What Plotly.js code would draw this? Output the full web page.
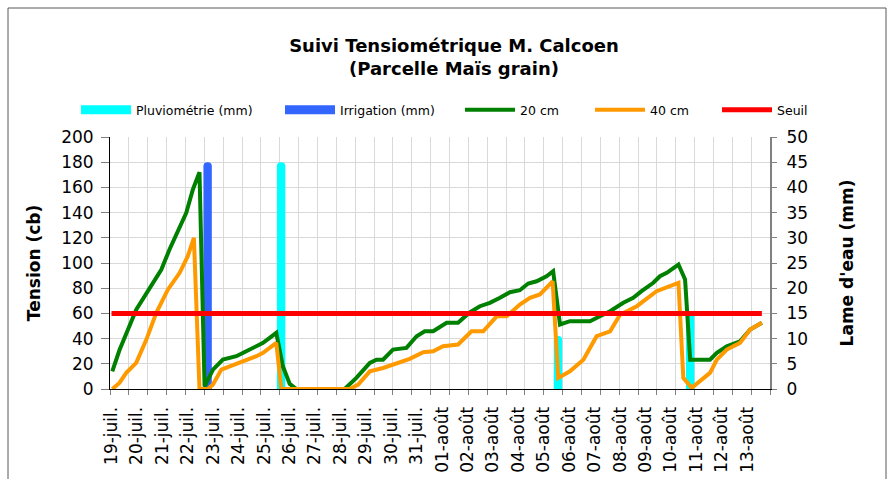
<!DOCTYPE html>
<html>
<head>
<meta charset="utf-8">
<script src="https://cdn.plot.ly/plotly-3.0.1.min.js"></script>
<style>html,body{margin:0;padding:0;background:#fff}#chart{width:894px;height:479px}</style>
</head>
<body>
<div id="chart"></div>
<script>
// Date labels (one per day)
const dates = ['19-juil.','20-juil.','21-juil.','22-juil.','23-juil.','24-juil.','25-juil.','26-juil.','27-juil.','28-juil.','29-juil.','30-juil.','31-juil.','01-août','02-août','03-août','04-août','05-août','06-août','07-août','08-août','09-août','10-août','11-août','12-août','13-août'];

// Tension 20 cm (x in days from 19-juil.)
const t20X = [0.03,0.31,0.97,1.96,2.28,2.94,3.20,3.46,3.66,3.99,4.38,4.91,5.30,5.96,6.22,6.48,6.74,7.01,7.27,9.17,9.63,10.16,10.42,10.68,11.07,11.60,12.00,12.32,12.65,13.18,13.63,14.06,14.49,14.88,15.28,15.67,16.06,16.39,16.72,17.11,17.37,17.64,18.03,18.82,19.21,19.61,20.13,20.52,20.85,21.31,21.57,21.84,22.30,22.56,22.76,23.54,23.81,24.20,24.72,25.12,25.58];
const t20Y = [14,30.7,63,94.8,110.7,139.9,158.4,172,2,15.4,23.3,26,30,36.6,40.6,44.6,18,4,0,0,8.8,20.7,23.3,23.3,31.3,32.6,41.9,45.8,45.8,52.5,52.5,60.4,65.7,68.4,72.4,76.8,78.4,83.7,85.5,89.5,93.5,51.2,53.8,53.8,57.7,61.7,68.4,72.4,77.6,84.3,89.5,92.2,98.8,86.9,23.3,23.3,28.7,33.9,37.9,47.2,52.5];

// Tension 40 cm
const t40X = [0.03,0.31,0.58,0.97,1.37,1.76,2.22,2.68,3.00,3.24,3.46,3.79,3.99,4.32,4.65,4.91,5.30,5.70,5.96,6.22,6.48,6.68,9.37,9.70,10.16,10.68,11.21,11.73,12.26,12.65,13.04,13.63,14.16,14.62,15.15,15.54,16.06,16.46,16.85,17.35,17.57,18.03,18.56,19.08,19.61,20.00,20.66,21.18,21.44,22.30,22.49,22.82,23.15,23.54,23.81,24.20,24.72,25.12,25.58];
const t40Y = [0,4.8,12.8,20.7,39.2,60.4,79,92.2,105.4,120,0,0,3.5,15.4,18,19.8,23.3,26,28.7,32.6,36.6,0,0,3.5,14,16.7,20.7,23.9,29.2,30,33.9,35.3,45.8,45.8,57.7,57.7,67,72.4,75,85.5,8.8,14,23.3,41.9,45.8,59,65.7,73.6,77.6,84.3,8.8,0.9,6.1,12.8,23.3,31.3,36.6,47.2,52.5];

// Threshold
const seuilX = [0, 25.58];
const seuilY = [60, 60];

// Rain and irrigation (mm)
const pluvioX = [6.67, 17.56, 22.76];
const pluvioY = [45, 10.5, 15.5];
const irrigX = [3.78];
const irrigY = [45];

const FONT = 'DejaVu Sans';
const LEGY = 1 - 110/479;

const traces = [
  {type:'bar', x:pluvioX, y:pluvioY, xaxis:'x', yaxis:'y', width:0.33, marker:{color:'#00FFFF', cornerradius:5, line:{width:0}}, name:'Pluviométrie (mm)', showlegend:false, legendgroup:'p'},
  {type:'bar', x:irrigX, y:irrigY, xaxis:'x', yaxis:'y', width:0.33, marker:{color:'#3366FF', cornerradius:5, line:{width:0}}, name:'Irrigation (mm)', showlegend:false, legendgroup:'i'},
  {type:'scatter', mode:'lines', x:t20X, y:t20Y, xaxis:'x', yaxis:'y2', line:{color:'#008000', width:4}, name:'20 cm', legend:'legend3'},
  {type:'scatter', mode:'lines', x:t40X, y:t40Y, xaxis:'x', yaxis:'y2', line:{color:'#FF9900', width:4}, name:'40 cm', legend:'legend4'},
  {type:'scatter', mode:'lines', x:seuilX, y:seuilY, xaxis:'x', yaxis:'y2', line:{color:'#FF0000', width:5}, name:'Seuil', legend:'legend5'},
  // legend proxies for the bar series
  {type:'scatter', mode:'lines', x:[null], y:[null], xaxis:'x', yaxis:'y', line:{color:'#00FFFF', width:9}, name:'Pluviométrie (mm)', legend:'legend', legendgroup:'p', hoverinfo:'skip'},
  {type:'scatter', mode:'lines', x:[null], y:[null], xaxis:'x', yaxis:'y', line:{color:'#3366FF', width:9}, name:'Irrigation (mm)', legend:'legend2', legendgroup:'i', hoverinfo:'skip'},
  // carrier for the gridline axis
  {type:'scatter', mode:'lines', x:[null], y:[null], xaxis:'x2', yaxis:'y', showlegend:false, hoverinfo:'skip'}
];

function leg(px){
  return {xref:'container', yref:'container', x:px/894, y:LEGY, xanchor:'left', yanchor:'middle', orientation:'h',
          bgcolor:'rgba(0,0,0,0)', borderwidth:0, itemwidth:50, font:{family:FONT, size:12.5, color:'#000'}};
}

const layout = {
  width:894, height:479,
  margin:{l:110, r:124, t:137, b:90},
  paper_bgcolor:'#fff', plot_bgcolor:'#fff',
  font:{family:FONT, color:'#000'},
  barmode:'overlay',
  title:{text:'<b>Suivi Tensiométrique M. Calcoen<br>(Parcelle Maïs grain)</b>', font:{family:FONT, size:18, color:'#000'},
         xref:'container', yref:'container', x:454/894, xanchor:'center', y:1-52/479, yanchor:'top'},
  xaxis:{range:[-0.06, 25.9], tickmode:'array', tickvals:dates.map((d,i)=>i), ticktext:dates, tickangle:-90,
         showgrid:false, zeroline:false, showline:true, linecolor:'#000', linewidth:1, ticks:'',
         tickfont:{family:FONT, size:17, color:'#000'}, ticklabelstandoff:10, anchor:'y'},
  xaxis2:{overlaying:'x', anchor:'y', side:'bottom', range:[0,35], tickmode:'linear', tick0:0, dtick:1,
          showgrid:true, gridcolor:'#d9d9d9', gridwidth:1, ticks:'outside', ticklen:5, tickcolor:'#808080',
          showticklabels:false, zeroline:false, showline:false},
  yaxis:{side:'right', range:[0,50], tickmode:'linear', tick0:0, dtick:5, showgrid:true, gridcolor:'#d9d9d9', gridwidth:1,
         zeroline:false, showline:true, linecolor:'#808080', linewidth:2, ticks:'outside', ticklen:5, tickcolor:'#808080',
         tickfont:{family:FONT, size:17, color:'#000'}, ticklabelstandoff:6,
         title:{text:"<b>Lame d'eau (mm)</b>", font:{family:FONT, size:17, color:'#000'}, standoff:34}},
  yaxis2:{overlaying:'y', side:'left', range:[0,200], tickmode:'linear', tick0:0, dtick:20, showgrid:false,
          zeroline:false, showline:true, linecolor:'#000', linewidth:1, ticks:'outside', ticklen:8, tickcolor:'#808080',
          tickfont:{family:FONT, size:17, color:'#000'}, ticklabelstandoff:4,
          title:{text:'<b>Tension (cb)</b>', font:{family:FONT, size:17, color:'#000'}, standoff:16}},
  legend: leg(76),
  legend2: leg(280),
  legend3: leg(460),
  legend4: leg(590),
  legend5: leg(717),
  shapes:[{type:'rect', xref:'paper', yref:'paper', x0:(8-110)/660, x1:(886-110)/660, y0:(389-490)/252, y1:(389-8)/252,
           line:{color:'#595959', width:1}, fillcolor:'rgba(0,0,0,0)', layer:'below'}]
};

Plotly.newPlot('chart', traces, layout, {displayModeBar:false, staticPlot:true});
</script>
</body>
</html>
